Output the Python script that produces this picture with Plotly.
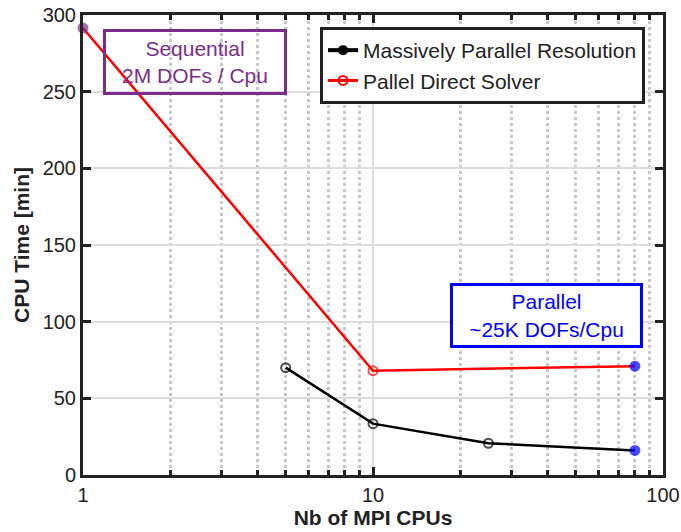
import plotly.graph_objects as go

# Data
cpus_mpr = [5, 10, 25, 80]
time_mpr = [70, 33.5, 20.7, 16]
cpus_pds = [1, 10, 80]
time_pds = [291.5, 68, 71]

y_ticks = [0, 50, 100, 150, 200, 250, 300]

series_names = ["Massively Parallel Resolution", "Pallel Direct Solver"]

fig = go.Figure()

fig.add_trace(go.Scatter(
    x=cpus_mpr, y=time_mpr, mode="lines+markers",
    name=series_names[0], showlegend=False, cliponaxis=False,
    line=dict(color="black", width=2.5),
    marker=dict(size=[9, 9, 9, 11],
                symbol=["circle-open", "circle-open", "circle-open", "circle"],
                color=["black", "black", "black", "blue"],
                line=dict(width=[2, 2, 2, 0], color=["black", "black", "black", "blue"])),
))
fig.add_trace(go.Scatter(
    x=cpus_pds, y=time_pds, mode="lines+markers",
    name=series_names[1], showlegend=False, cliponaxis=False,
    line=dict(color="red", width=2.5),
    marker=dict(size=[11, 9, 11],
                symbol=["circle", "circle-open", "circle"],
                color=["#7B2D8E", "red", "blue"],
                line=dict(width=[0, 2, 0], color=["#7B2D8E", "red", "blue"])),
))

# legend entries (styled as in the reference legend)
fig.add_trace(go.Scatter(
    x=[None], y=[None], mode="lines+markers", name=series_names[0],
    line=dict(color="black", width=4), marker=dict(size=10, color="black", symbol="circle"),
))
fig.add_trace(go.Scatter(
    x=[None], y=[None], mode="lines+markers", name=series_names[1],
    line=dict(color="red", width=3), marker=dict(size=9, color="red", symbol="circle-open-dot", line=dict(width=2)),
))

L, R, T, B = 83, 18, 15, 57
W, H = 681, 532

FONT = "Liberation Sans, Arial"

axis_common = dict(
    showline=True, linecolor="#222", linewidth=3, mirror="ticks",
    ticks="inside", ticklen=8, tickwidth=3, tickcolor="#222",
    gridcolor="#dcdcdc", gridwidth=2, zeroline=False, automargin=False,
    tickfont=dict(family=FONT, size=20, color="#222"),
)

fig.update_xaxes(
    type="log", range=[0, 2], dtick=1, tickformat="d",
    title=dict(text="<b>Nb of MPI CPUs</b>", font=dict(family=FONT, size=21, color="#222"), standoff=6),
    minor=dict(dtick="D1", ticks="inside", ticklen=5, tickwidth=3, tickcolor="#222",
               showgrid=True, gridcolor="#c8c8c8", griddash="dot", gridwidth=2.5),
    **axis_common,
)
fig.update_yaxes(
    range=[0, 300], tickvals=y_ticks,
    title=dict(text="<b>CPU Time [min]</b>", font=dict(family=FONT, size=21, color="#222"), standoff=8),
    **axis_common,
)

pw = W - L - R
ph = H - T - B

fig.add_annotation(
    xref="paper", yref="paper",
    x=(103 - L) / pw, y=(H - B - 29) / ph, xanchor="left", yanchor="top",
    text="Sequential<br>2M DOFs / Cpu", showarrow=False,
    font=dict(family=FONT, size=21, color="#7B2D8E"),
    bordercolor="#7B2D8E", borderwidth=3, bgcolor="rgba(255,255,255,0)",
    width=178, height=60, align="center", borderpad=0,
)
fig.add_annotation(
    xref="paper", yref="paper",
    x=(450 - L) / pw, y=(H - B - 283) / ph, xanchor="left", yanchor="top",
    text="Parallel<br>~25K DOFs/Cpu", showarrow=False,
    font=dict(family=FONT, size=21, color="blue"),
    bordercolor="blue", borderwidth=3, bgcolor="white",
    width=187, height=59, align="center", borderpad=0,
)

fig.update_layout(
    width=W, height=H,
    margin=dict(l=L, r=R, t=T, b=B),
    plot_bgcolor="white", paper_bgcolor="white",
    showlegend=True,
    legend=dict(
        x=(320 - L) / pw, y=(H - B - 27) / ph, xanchor="left", yanchor="top",
        bgcolor="white", bordercolor="#222", borderwidth=3,
        font=dict(family=FONT, size=21, color="#222"),
        tracegroupgap=0, itemwidth=30,
    ),
)

fig.write_html("out.html")
